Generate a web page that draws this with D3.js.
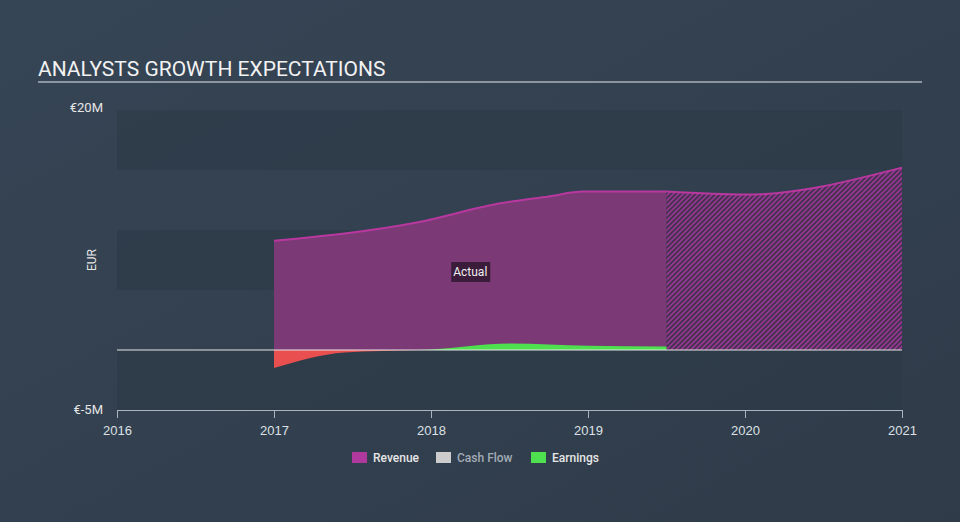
<!DOCTYPE html>
<html>
<head>
<meta charset="utf-8">
<script src="https://cdn.jsdelivr.net/npm/d3@7"></script>
<style>
  html, body { margin: 0; padding: 0; background: #344252; }
  svg { display: block; font-family: Roboto, "Open Sans", sans-serif; }
</style>
</head>
<body>
<div id="chart"></div>
<script>
// years as decimals, values in EUR millions
const revenueYears = [2017.0, 2017.9, 2018.45, 2018.75, 2018.97, 2019.5];
const revenueValues = [9.1, 10.6, 12.25, 12.8, 13.2, 13.2];
const forecastYears = [2019.5, 2020.0, 2021.0];
const forecastValues = [13.2, 12.95, 15.2];
const earningsYears = [2017.0, 2017.45, 2018.0, 2018.5, 2019.0, 2019.5];
const earningsValues = [-1.5, -0.2, 0.05, 0.55, 0.35, 0.3];
const xTicks = [2016, 2017, 2018, 2019, 2020, 2021];
const yTicks = [-5, 0, 5, 10, 15, 20];
const legendItems = ["Revenue", "Cash Flow", "Earnings"];
const legendColors = ["#b0399e", "#cccccc", "#4fe04f"];

const width = 960;
const height = 522;
const margin = { top: 110, right: 58, bottom: 112, left: 117 };

const svg = d3.select("#chart")
  .append("svg")
  .attr("width", width)
  .attr("height", height);

const defs = svg.append("defs");

// background gradient
const bg = defs.append("linearGradient")
  .attr("id", "bg")
  .attr("x1", "0%").attr("y1", "0%")
  .attr("x2", "100%").attr("y2", "100%");
bg.append("stop").attr("offset", "0%").attr("stop-color", "#364555");
bg.append("stop").attr("offset", "100%").attr("stop-color", "#2f3b49");

// hatch for forecast area
const hatch = defs.append("pattern")
  .attr("id", "hatch")
  .attr("patternUnits", "userSpaceOnUse")
  .attr("width", 3.5)
  .attr("height", 3.5)
  .attr("patternTransform", "rotate(45)");
hatch.append("rect").attr("width", 3.5).attr("height", 3.5).attr("fill", "#45304f");
hatch.append("rect").attr("width", 1.5).attr("height", 3.5).attr("fill", "#a0389a");

svg.append("rect")
  .attr("width", width)
  .attr("height", height)
  .attr("fill", "url(#bg)");

const x = d3.scaleLinear()
  .domain([2016, 2021])
  .range([margin.left, width - margin.right]);

const y = d3.scaleLinear()
  .domain([-5, 20])
  .range([height - margin.bottom, margin.top]);

// title
svg.append("text")
  .attr("x", 38)
  .attr("y", 76)
  .style("font-size", "21px")
  .style("fill", "#f2f2f2")
  .text("ANALYSTS GROWTH EXPECTATIONS");

svg.append("line")
  .attr("x1", 38).attr("x2", 922)
  .attr("y1", 82).attr("y2", 82)
  .attr("stroke", "#aab2bb")
  .attr("stroke-width", 1.5);

// alternating bands
for (let i = 0; i < yTicks.length - 1; i += 2) {
  svg.append("rect")
    .attr("x", x(2016))
    .attr("y", y(yTicks[yTicks.length - 1 - i]))
    .attr("width", x(2021) - x(2016))
    .attr("height", y(yTicks[yTicks.length - 2 - i]) - y(yTicks[yTicks.length - 1 - i]))
    .attr("fill", "#2b3846")
    .attr("opacity", 0.55);
}

const revPts = revenueYears.map((d, i) => [d, revenueValues[i]]);
const fcPts = forecastYears.map((d, i) => [d, forecastValues[i]]);
const earnPts = earningsYears.map((d, i) => [d, earningsValues[i]]);

const area = d3.area()
  .x(d => x(d[0]))
  .y0(y(0))
  .y1(d => y(d[1]))
  .curve(d3.curveMonotoneX);

const line = d3.line()
  .x(d => x(d[0]))
  .y(d => y(d[1]))
  .curve(d3.curveMonotoneX);

// revenue actual
svg.append("path")
  .attr("d", area(revPts))
  .attr("fill", "#7b3a76");

// revenue forecast
svg.append("path")
  .attr("d", area(fcPts))
  .attr("fill", "url(#hatch)");

svg.append("path")
  .attr("d", line(revPts))
  .attr("fill", "none")
  .attr("stroke", "#b8389f")
  .attr("stroke-width", 2);

svg.append("path")
  .attr("d", line(fcPts))
  .attr("fill", "none")
  .attr("stroke", "#b8389f")
  .attr("stroke-width", 2);

// earnings, red below zero and green above
defs.append("clipPath").attr("id", "above")
  .append("rect")
  .attr("x", 0).attr("y", 0)
  .attr("width", width).attr("height", y(0));
defs.append("clipPath").attr("id", "below")
  .append("rect")
  .attr("x", 0).attr("y", y(0))
  .attr("width", width).attr("height", height - y(0));

svg.append("path")
  .attr("d", area(earnPts))
  .attr("fill", "#4fe04f")
  .attr("clip-path", "url(#above)");

svg.append("path")
  .attr("d", area(earnPts))
  .attr("fill", "#ea4f4f")
  .attr("clip-path", "url(#below)");

// zero line
svg.append("line")
  .attr("x1", x(2016)).attr("x2", x(2021))
  .attr("y1", y(0)).attr("y2", y(0))
  .attr("stroke", "#e6e6e6")
  .attr("stroke-width", 1);

// actual label
const lab = svg.append("g")
  .attr("transform", `translate(${x(2018.25)}, ${y(6.5)})`);
lab.append("rect")
  .attr("x", -19).attr("y", -10)
  .attr("width", 39).attr("height", 20)
  .attr("fill", "#3b1c3a");
lab.append("text")
  .attr("text-anchor", "middle")
  .attr("dy", "0.35em")
  .style("font-size", "12px")
  .style("fill", "#f0f0f0")
  .text("Actual");

// x axis
const xAxis = svg.append("g")
  .attr("transform", `translate(0, ${y(-5)})`)
  .call(d3.axisBottom(x).tickValues(xTicks).tickFormat(d3.format("d")).tickSize(8));
xAxis.select(".domain").attr("stroke", "#a9b4bf");
xAxis.selectAll(".tick line").attr("stroke", "#a9b4bf");
xAxis.selectAll(".tick text")
  .attr("fill", "#dde1e5")
  .style("font-size", "13px")
  .attr("dy", "1.1em");

// y labels
svg.append("text")
  .attr("x", 103)
  .attr("y", y(20) + 2)
  .attr("text-anchor", "end")
  .style("font-size", "13px")
  .style("fill", "#e6e6e6")
  .text("€20M");

svg.append("text")
  .attr("x", 103)
  .attr("y", y(-5) + 4)
  .attr("text-anchor", "end")
  .style("font-size", "13px")
  .style("fill", "#e6e6e6")
  .text("€-5M");

svg.append("text")
  .attr("transform", `translate(96, ${y(7.5)}) rotate(-90)`)
  .attr("text-anchor", "middle")
  .style("font-size", "12px")
  .style("fill", "#e6e6e6")
  .text("EUR");

// legend
const legendX = [352, 436, 531];
legendItems.forEach((name, i) => {
  const g = svg.append("g").attr("transform", `translate(${legendX[i]}, 452)`);
  g.append("rect")
    .attr("width", 15).attr("height", 11)
    .attr("fill", legendColors[i]);
  g.append("text")
    .attr("x", 21).attr("y", 10)
    .style("font-size", "12px")
    .style("font-weight", "500")
    .style("fill", name === "Cash Flow" ? "#a3acb6" : "#e6e6e6")
    .text(name);
});
</script>
</body>
</html>
